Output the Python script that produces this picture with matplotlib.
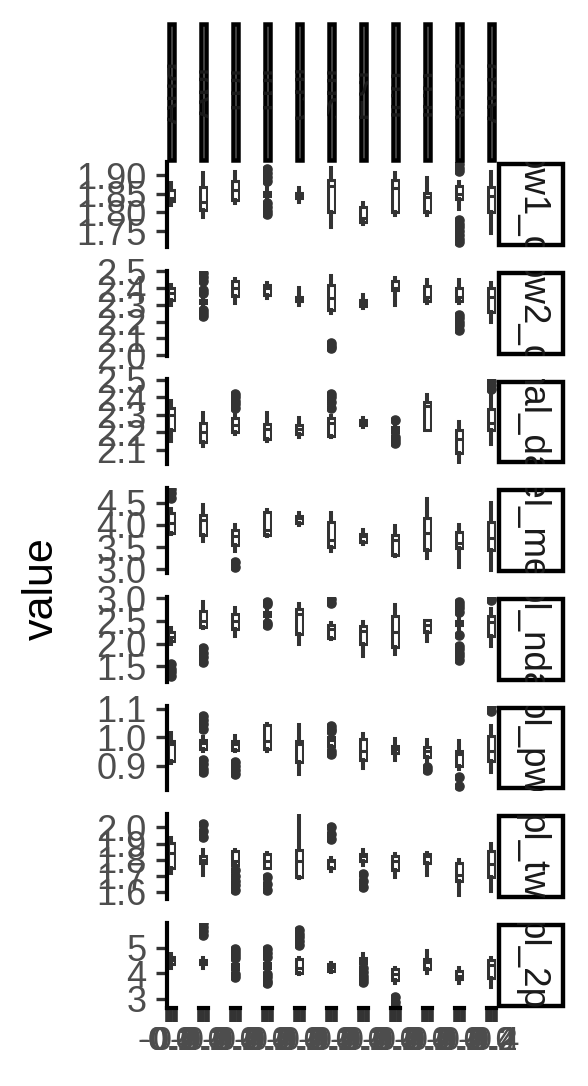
import matplotlib
matplotlib.use("Agg")
import matplotlib.pyplot as plt
from matplotlib.patches import Rectangle

plt.rcParams['font.family'] = ['Liberation Sans', 'DejaVu Sans']

# ---------------- data ----------------
groups = ["Ana", "Api", "Tpi", "Tpi", "Cpi", "Spi", "Esi", "Ico", "Ico", "Vco", "Aco"]
variables = ["bw1_d", "bw2_d", "nal_da", "bel_med", "pl_nda", "pl_pw", "pl_tw", "pl_2p"]

x_ticks = [-0.4, -0.2, 0.0, 0.2, 0.4]
x_labels = ["-0.4", "-0.2", "0.0", "0.2", "0.4"]

# per variable: (whislo, q1, median, q3, whishi) for each group, plus outliers
bw1_d_stats = [(1.82, 1.83, 1.838, 1.86, 1.879), (1.788, 1.806, 1.828, 1.868, 1.905),
               (1.825, 1.833, 1.86, 1.884, 1.908), (1.835, 1.845, 1.85, 1.855, 1.875),
               (1.828, 1.838, 1.845, 1.852, 1.866), (1.76, 1.80, 1.87, 1.886, 1.918),
               (1.77, 1.775, 1.785, 1.815, 1.825), (1.793, 1.80, 1.865, 1.887, 1.905),
               (1.793, 1.80, 1.84, 1.852, 1.892), (1.81, 1.835, 1.85, 1.87, 1.88),
               (1.745, 1.80, 1.845, 1.868, 1.908)]
bw1_d_out = [[], [], [], [1.915, 1.905, 1.895, 1.885, 1.825, 1.815, 1.805, 1.795], [], [], [], [], [],
             [1.93, 1.92, 1.91, 1.78, 1.77, 1.76, 1.75, 1.74, 1.73, 1.72], []]

bw2_d_stats = [(2.30, 2.33, 2.37, 2.40, 2.42), (2.29, 2.31, 2.32, 2.33, 2.35),
               (2.31, 2.35, 2.40, 2.44, 2.455), (2.34, 2.36, 2.40, 2.42, 2.43),
               (2.30, 2.32, 2.33, 2.345, 2.40), (2.25, 2.27, 2.34, 2.42, 2.47),
               (2.28, 2.29, 2.31, 2.33, 2.36), (2.30, 2.39, 2.40, 2.44, 2.46),
               (2.31, 2.32, 2.345, 2.41, 2.445), (2.31, 2.32, 2.345, 2.40, 2.45),
               (2.20, 2.26, 2.345, 2.40, 2.43)]
bw2_d_out = [[], [2.49, 2.465, 2.44, 2.39, 2.37, 2.27, 2.25, 2.235], [], [], [], [2.07, 2.055, 2.04],
             [], [], [], [2.24, 2.22, 2.20, 2.18, 2.15], []]

nal_da_stats = [(2.15, 2.214, 2.30, 2.34, 2.38), (2.12, 2.145, 2.20, 2.25, 2.31),
                (2.19, 2.20, 2.24, 2.28, 2.30), (2.15, 2.16, 2.22, 2.245, 2.31),
                (2.17, 2.19, 2.22, 2.24, 2.28), (2.17, 2.18, 2.25, 2.28, 2.29),
                (2.23, 2.24, 2.25, 2.27, 2.28), (2.19, 2.20, 2.21, 2.23, 2.25),
                (2.21, 2.21, 2.35, 2.37, 2.41), (2.03, 2.08, 2.16, 2.21, 2.26),
                (2.13, 2.215, 2.255, 2.33, 2.41)]
nal_da_out = [[], [], [2.42, 2.40, 2.38, 2.36, 2.34], [], [], [2.42, 2.40, 2.37, 2.34], [],
              [2.27, 2.17, 2.155, 2.14], [], [], [2.49, 2.47, 2.445]]

bel_med_stats = [(3.80, 3.82, 4.05, 4.26, 4.35), (3.64, 3.77, 4.10, 4.22, 4.45),
                 (3.42, 3.54, 3.75, 3.88, 3.99), (3.76, 3.77, 3.88, 4.30, 4.335),
                 (4.00, 4.05, 4.15, 4.20, 4.27), (3.40, 3.50, 3.65, 4.06, 4.26),
                 (3.57, 3.62, 3.75, 3.80, 3.88), (3.30, 3.32, 3.65, 3.77, 3.97),
                 (3.25, 3.43, 3.82, 4.15, 4.58), (3.05, 3.47, 3.59, 3.83, 4.00),
                 (2.98, 3.43, 3.70, 4.06, 4.50)]
bel_med_out = [[4.82, 4.72, 4.62], [], [3.15, 3.05], [], [], [], [], [], [], [], []]

pl_nda_stats = [(2.00, 2.05, 2.15, 2.25, 2.35), (2.35, 2.37, 2.50, 2.72, 2.92),
                (2.17, 2.33, 2.50, 2.66, 2.79), (2.50, 2.60, 2.65, 2.70, 2.80),
                (2.00, 2.22, 2.65, 2.76, 2.87), (2.10, 2.12, 2.33, 2.42, 2.45),
                (1.72, 2.00, 2.28, 2.38, 2.48), (1.78, 1.93, 2.26, 2.61, 2.85),
                (2.06, 2.26, 2.40, 2.52, 2.52), (2.30, 2.40, 2.45, 2.50, 2.60),
                (1.96, 2.17, 2.48, 2.60, 2.77)]
pl_nda_out = [[1.55, 1.45, 1.38, 1.30], [1.90, 1.80, 1.70, 1.60], [], [2.92, 2.87, 2.45, 2.40], [],
              [2.98, 2.90], [], [], [],
              [2.92, 2.85, 2.78, 2.70, 2.20, 1.95, 1.88, 1.80, 1.72, 1.65], [3.00, 2.95]]

pl_pw_stats = [(0.91, 0.918, 0.975, 0.987, 1.015), (0.95, 0.96, 0.98, 0.99, 1.00),
               (0.95, 0.955, 0.975, 0.985, 1.005), (0.95, 0.96, 0.987, 1.043, 1.045),
               (0.87, 0.913, 0.977, 0.988, 1.043), (0.96, 0.97, 0.99, 1.00, 1.01),
               (0.893, 0.92, 0.95, 0.995, 1.01), (0.92, 0.945, 0.96, 0.97, 0.995),
               (0.91, 0.93, 0.95, 0.965, 0.99), (0.89, 0.90, 0.94, 0.952, 0.987),
               (0.88, 0.918, 0.953, 1.005, 1.04)]
pl_pw_out = [[], [1.075, 1.06, 1.045, 1.03, 0.92, 0.905, 0.89, 0.88], [0.915, 0.90, 0.885, 0.87], [], [],
             [1.04, 1.03, 1.02, 0.95, 0.94], [], [], [0.895, 0.885], [0.86, 0.83], [1.11, 1.09]]

pl_tw_stats = [(1.718, 1.748, 1.842, 1.904, 1.935), (1.705, 1.78, 1.80, 1.82, 1.86),
               (1.76, 1.77, 1.79, 1.855, 1.86), (1.748, 1.75, 1.79, 1.838, 1.84),
               (1.685, 1.69, 1.79, 1.86, 2.07), (1.73, 1.75, 1.79, 1.80, 1.81),
               (1.77, 1.79, 1.82, 1.835, 1.86), (1.69, 1.736, 1.79, 1.823, 1.835),
               (1.705, 1.78, 1.82, 1.835, 1.84), (1.58, 1.668, 1.705, 1.78, 1.80),
               (1.605, 1.69, 1.775, 1.855, 1.90)]
pl_tw_out = [[], [2.02, 1.98, 1.94], [1.735, 1.70, 1.67, 1.64, 1.61], [1.69, 1.65, 1.61], [],
             [2.00, 1.96, 1.93], [1.71, 1.67, 1.63], [], [], [], []]

pl_2p_stats = [(4.20, 4.35, 4.50, 4.62, 4.75), (4.20, 4.35, 4.45, 4.50, 4.60),
               (4.05, 4.15, 4.25, 4.35, 4.50), (4.10, 4.20, 4.30, 4.40, 4.50),
               (3.95, 4.00, 4.20, 4.55, 4.60), (4.05, 4.10, 4.25, 4.35, 4.40),
               (4.30, 4.40, 4.50, 4.60, 4.75), (3.60, 3.72, 3.95, 4.15, 4.20),
               (4.00, 4.15, 4.45, 4.55, 4.85), (3.62, 3.75, 3.90, 4.10, 4.20),
               (3.45, 3.80, 4.30, 4.50, 4.60)]
pl_2p_out = [[], [5.95, 5.80, 5.65, 5.50], [4.95, 4.82, 4.70, 4.60, 3.95, 3.85],
             [4.95, 4.80, 4.65, 3.95, 3.85, 3.70, 3.60], [5.70, 5.55, 5.40, 5.25, 5.10], [],
             [4.20, 4.05, 3.90, 3.75, 3.65], [3.05, 2.85, 2.70], [], [], []]

# y ticks and limits per variable
bw1_d_ticks, bw1_d_lim = [1.75, 1.80, 1.85, 1.90], (1.7075, 1.9348)
bw2_d_ticks, bw2_d_lim = [2.0, 2.1, 2.2, 2.3, 2.4, 2.5], (1.997, 2.503)
nal_da_ticks, nal_da_lim = [2.1, 2.2, 2.3, 2.4, 2.5], (2.016, 2.502)
bel_med_ticks, bel_med_lim = [3.0, 3.5, 4.0, 4.5], (2.91, 4.833)
pl_nda_ticks, pl_nda_lim = [1.5, 2.0, 2.5, 3.0], (1.164, 3.028)
pl_pw_ticks, pl_pw_lim = [0.9, 1.0, 1.1], (0.8138, 1.1105)
pl_tw_ticks, pl_tw_lim = [1.6, 1.7, 1.8, 1.9, 2.0], (1.5547, 2.0826)
pl_2p_ticks, pl_2p_lim = [3, 4, 5], (2.636, 5.969)

rows = [
    (bw1_d_stats, bw1_d_out, bw1_d_ticks, bw1_d_lim, "{:.2f}"),
    (bw2_d_stats, bw2_d_out, bw2_d_ticks, bw2_d_lim, "{:.1f}"),
    (nal_da_stats, nal_da_out, nal_da_ticks, nal_da_lim, "{:.1f}"),
    (bel_med_stats, bel_med_out, bel_med_ticks, bel_med_lim, "{:.1f}"),
    (pl_nda_stats, pl_nda_out, pl_nda_ticks, pl_nda_lim, "{:.1f}"),
    (pl_pw_stats, pl_pw_out, pl_pw_ticks, pl_pw_lim, "{:.1f}"),
    (pl_tw_stats, pl_tw_out, pl_tw_ticks, pl_tw_lim, "{:.1f}"),
    (pl_2p_stats, pl_2p_out, pl_2p_ticks, pl_2p_lim, "{:.0f}"),
]

# ---------------- layout (pixels) ----------------
W, H = 588, 1086
fig = plt.figure(figsize=(W / 100, H / 100), dpi=100)

PX0, PDX, PW = 166.7, 32.0, 9.3
PY0, PDY, PH = 162.0, 108.7, 85.0
TOP_STRIP_Y, TOP_STRIP_H = 22.0, 140.0
RS_X, RS_W = 497.0, 68.0

GREY20, GREY30, GREY10 = "#333333", "#4d4d4d", "#1a1a1a"


def add_px_axes(x, y, w, h):
    return fig.add_axes([x / W, 1 - (y + h) / H, w / W, h / H])


def add_strip(x, y, w, h, label, rot, lw_px, fs):
    ax = add_px_axes(x, y, w, h)
    ax.set_axis_off()
    ax.set_xlim(0, 1)
    ax.set_ylim(0, 1)
    ix, iy = (lw_px / 2) / w, (lw_px / 2) / h
    ax.add_patch(Rectangle((ix, iy), 1 - 2 * ix, 1 - 2 * iy, transform=ax.transAxes,
                           facecolor="white", edgecolor="black", linewidth=lw_px * 0.72,
                           clip_on=False, zorder=1))
    ax.text(0.5, 0.5, label, transform=ax.transAxes, rotation=rot, ha="center", va="center",
            rotation_mode="anchor", fontsize=fs, color=GREY10, clip_on=True, zorder=2)


nrow, ncol = len(rows), len(groups)
for j, (stats, outs, ticks, lim, fmt) in enumerate(rows):
    for i in range(ncol):
        ax = add_px_axes(PX0 + PDX * i, PY0 + PDY * j, PW, PH)
        wl, q1, med, q3, wh = stats[i]
        ax.bxp([dict(whislo=wl, q1=q1, med=med, q3=q3, whishi=wh, fliers=outs[i])],
               positions=[0], widths=0.56, patch_artist=True, showcaps=False,
               boxprops=dict(facecolor="white", edgecolor=GREY20, linewidth=2.2),
               whiskerprops=dict(color=GREY20, linewidth=2.9),
               medianprops=dict(color=GREY20, linewidth=2.2),
               flierprops=dict(marker="o", markerfacecolor=GREY20, markeredgecolor=GREY20,
                               markersize=6.6, linestyle="none"),
               manage_ticks=False)
        ax.set_xlim(-0.4125, 0.4125)
        ax.set_ylim(*lim)
        ax.patch.set_visible(False)
        for s in ax.spines.values():
            s.set_visible(False)
        ax.tick_params(which="both", direction="out", color=GREY20, width=2.4, length=8,
                       labelsize=26, labelcolor=GREY30)
        if i == 0:
            ax.spines["left"].set_visible(True)
            ax.spines["left"].set_color("black")
            ax.spines["left"].set_linewidth(3.0)
            ax.set_yticks(ticks)
            ax.set_yticklabels([fmt.format(t) for t in ticks])
            ax.tick_params(axis="y", pad=6.5)
        else:
            ax.set_yticks([])
        if j == nrow - 1:
            ax.spines["bottom"].set_visible(True)
            ax.spines["bottom"].set_color("black")
            ax.spines["bottom"].set_linewidth(3.0)
            ax.set_xticks(x_ticks)
            ax.set_xticklabels(x_labels)
            ax.tick_params(axis="x", length=10, width=2.6, pad=3, labelsize=24.5)
        else:
            ax.set_xticks([])

# top strips (column labels)
for i, g in enumerate(groups):
    add_strip(PX0 + PDX * i, TOP_STRIP_Y, PW, TOP_STRIP_H, g, 90, 4.5, 26.5)

# right strips (row labels)
for j, v in enumerate(variables):
    add_strip(RS_X, PY0 + PDY * j, RS_W, PH, v, -90, 4.4, 26.5)

fig.text(42 / W, 1 - 588.5 / H, "value", rotation=90, ha="center", va="center",
         fontsize=31, color="black")

fig.savefig("out.png", dpi=100)
